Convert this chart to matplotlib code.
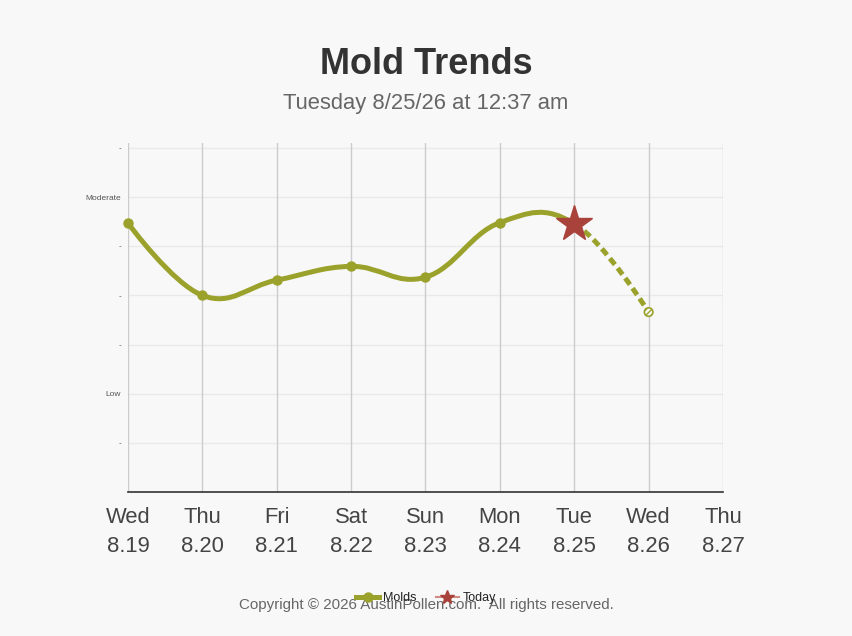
import matplotlib
matplotlib.use("Agg")
import matplotlib.pyplot as plt
from matplotlib.path import Path
from matplotlib.patches import PathPatch
from matplotlib.lines import Line2D

plt.rcParams["font.family"] = ["Liberation Sans", "DejaVu Sans"]

# data
days = ["Wed", "Thu", "Fri", "Sat", "Sun", "Mon", "Tue", "Wed", "Thu"]
dates = ["8.19", "8.20", "8.21", "8.22", "8.23", "8.24", "8.25", "8.26", "8.27"]
mold_values = [5.47, 4.0, 4.31, 4.59, 4.37, 5.48, 5.46, 3.66]
today_index = 6
ytick_vals = [1, 2, 3, 4, 5, 6, 7]
ytick_labels = ["-", "Low", "-", "-", "-", "Moderate", "-"]

OLIVE = "#9ba22b"
STAR = "#a8423a"
BG = "#f8f8f8"


def spline_segments(xs, ys, smoothing=1.5):
    """Bezier control points in the style of a Highcharts spline."""
    n = len(xs)
    left = [(xs[i], ys[i]) for i in range(n)]
    right = [(xs[i], ys[i]) for i in range(n)]
    denom = smoothing + 1
    for i in range(1, n - 1):
        x, y = xs[i], ys[i]
        lx = (smoothing * x + xs[i - 1]) / denom
        ly = (smoothing * y + ys[i - 1]) / denom
        rx = (smoothing * x + xs[i + 1]) / denom
        ry = (smoothing * y + ys[i + 1]) / denom
        corr = (ry - ly) * (rx - x) / (rx - lx) + y - ry
        left[i] = (lx, ly + corr)
        right[i] = (rx, ry + corr)
    segs = []
    for i in range(1, n):
        segs.append([(xs[i - 1], ys[i - 1]), right[i - 1], left[i], (xs[i], ys[i])])
    return segs


def seg_path(segs):
    verts = [segs[0][0]]
    codes = [Path.MOVETO]
    for s in segs:
        verts += s[1:]
        codes += [Path.CURVE4] * 3
    return Path(verts, codes)


fig = plt.figure(figsize=(8.52, 6.36), dpi=100, facecolor=BG)
ax = fig.add_axes([0.1502, 0.2264, 0.6984, 0.5488])
ax.set_facecolor(BG)

xs = list(range(len(mold_values)))
segs = spline_segments(xs, mold_values)

solid = PathPatch(seg_path(segs[:today_index]), fill=False, edgecolor=OLIVE,
                  lw=3.6, capstyle="round", joinstyle="round", zorder=3,
                  clip_on=False)
dashed = PathPatch(seg_path(segs[today_index:]), fill=False, edgecolor=OLIVE,
                   lw=3.6, linestyle=(0, (1.6, 0.9)), capstyle="butt", zorder=3)
ax.add_patch(solid)
ax.add_patch(dashed)

# point markers
ax.plot(xs[:today_index], mold_values[:today_index], "o", color=OLIVE,
        ms=6.5, zorder=4, clip_on=False)
ax.scatter([xs[-1]], [mold_values[-1]], s=38, facecolor=BG,
           edgecolor=OLIVE, hatch="//////", lw=1.2, zorder=4)
ax.plot(xs[today_index], mold_values[today_index], "*", color=STAR, ms=27,
        mec=STAR, zorder=5)

ax.set_xlim(0, len(days) - 1)
ax.set_ylim(0, 7.1)

ax.set_xticks(range(len(days)))
ax.set_xticklabels([f"{d}\n{t}" for d, t in zip(days, dates)],
                   fontsize=15.8, color="#444444", linespacing=1.5)
ax.set_yticks(ytick_vals)
ax.set_yticklabels(ytick_labels, fontsize=6, color="#555555")
ax.tick_params(axis="x", length=0, pad=11)
ax.tick_params(axis="y", length=0, pad=5)

for x in range(len(days)):
    ax.axvline(x, color="#cccccc", lw=1, zorder=1)
for y in ytick_vals:
    ax.axhline(y, color="#eaeaea", lw=1, zorder=0)

for side in ["left", "right", "top"]:
    ax.spines[side].set_visible(False)
ax.spines["bottom"].set_color("#333333")
ax.spines["bottom"].set_linewidth(1.2)
ax.spines["bottom"].set_zorder(2)

fig.text(0.5, 1 - 64 / 636, "Mold Trends", ha="center", va="center",
         fontsize=26, fontweight="bold", color="#333333")
fig.text(0.5, 1 - 103 / 636, "Tuesday 8/25/26 at 12:37 am", ha="center",
         va="center", fontsize=15.8, color="#666666")

fig.text(0.5, 1 - 605 / 636,
         "Copyright \u00a9 2026 AustinPollen.com.  All rights reserved.",
         ha="center", va="center", fontsize=10.9, color="#666666")

handles = [
    Line2D([], [], color=OLIVE, lw=3.6, marker="o", ms=6.5),
    Line2D([], [], color="#d08a85", lw=1.5, marker="*", ms=10,
           mfc=STAR, mec=STAR),
]
fig.legend(handles, ["Molds", "Today"], loc="center",
           bbox_to_anchor=(0.5, 1 - 598 / 636), ncol=2, frameon=False,
           fontsize=9, handlelength=1.8, columnspacing=1.6, handletextpad=0.3,
           labelcolor="#222222")

fig.savefig("out.png", dpi=100, facecolor=BG)
